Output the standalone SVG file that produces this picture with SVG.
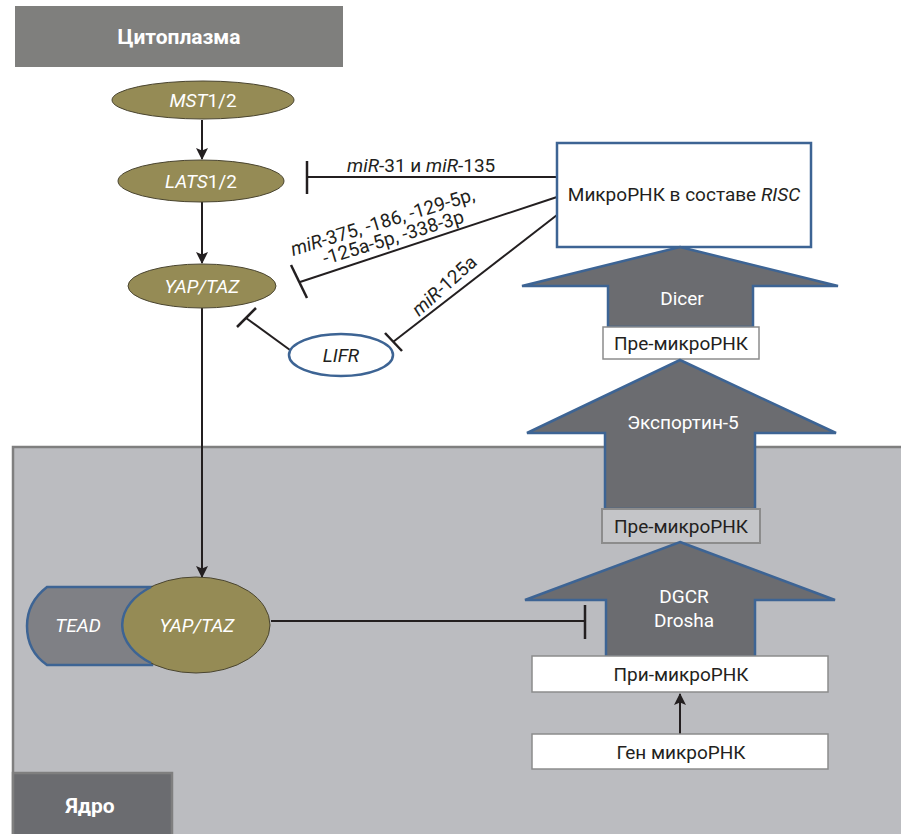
<svg xmlns="http://www.w3.org/2000/svg" width="901" height="834" viewBox="0 0 901 834">
<style>
text{font-family:Roboto,"Liberation Sans",sans-serif;}
.lbl{font-size:19px;fill:#231f20;text-anchor:middle;}
.wl{font-size:19px;fill:#ffffff;text-anchor:middle;}
.hdr{font-size:21px;font-weight:bold;fill:#ffffff;text-anchor:middle;}
.ol{fill:#958b55;stroke:#4a4530;stroke-width:1;}
.blk{fill:#6b6c70;stroke:#3d6494;stroke-width:2.5;}
.box{fill:#ffffff;stroke:#8c8c8c;stroke-width:1.5;}
.ln{stroke:#231f20;stroke-width:2;fill:none;}
.tb{stroke:#231f20;stroke-width:2.5;}
.it{font-style:italic;}
.mi{font-size:19px;fill:#231f20;}
</style>
<defs>
<marker id="ah" viewBox="0 0 12 12" refX="11" refY="6" markerWidth="12" markerHeight="12" markerUnits="userSpaceOnUse" orient="auto">
<path d="M0,0 L12,6 L0,12 L2.5,6 Z" fill="#231f20"/>
</marker>
</defs>
<rect x="0" y="0" width="901" height="834" fill="#ffffff"/>
<g id="nucleus">
<rect x="13" y="447" width="900" height="400" fill="#bbbcc0" stroke="#7f7f7f" stroke-width="2.5"/>
</g>
<g id="cytoplasm-label">
<rect x="15" y="6" width="328" height="61" fill="#7f7f7d"/>
<text class="hdr" x="179" y="44">Цитоплазма</text>
</g>
<g id="nucleus-label">
<rect x="13" y="773" width="159" height="70" fill="#6b6c70" stroke="#7f7f7f" stroke-width="2.5"/>
<text class="hdr" x="90" y="813">Ядро</text>
</g>
<g id="connectors">
<line class="ln" x1="202" y1="120" x2="202" y2="159" marker-end="url(#ah)"/>
<line class="ln" x1="202" y1="202" x2="202" y2="263" marker-end="url(#ah)"/>
<line class="ln" x1="202" y1="308" x2="202" y2="577" marker-end="url(#ah)"/>
<line class="ln" x1="680" y1="734" x2="680" y2="694" marker-end="url(#ah)"/>
<line class="ln" x1="557" y1="177" x2="307" y2="177"/>
<line class="tb" x1="307" y1="161" x2="307" y2="194"/>
<line class="ln" x1="557" y1="197" x2="300" y2="282"/>
<line class="tb" x1="291" y1="265" x2="307" y2="298"/>
<line class="ln" x1="557" y1="215" x2="393" y2="342"/>
<line class="tb" x1="385" y1="333" x2="402" y2="351"/>
<line class="ln" x1="290" y1="350" x2="246" y2="318"/>
<line class="tb" x1="237" y1="327" x2="256" y2="308"/>
<line class="ln" x1="271" y1="621" x2="585" y2="621"/>
<line class="tb" x1="585" y1="605" x2="585" y2="639"/>
<text class="mi" x="347" y="172"><tspan class="it">miR</tspan>-31 и <tspan class="it">miR</tspan>-135</text>
<text class="mi" transform="translate(293,256) rotate(-17)"><tspan class="it">miR</tspan>-375, -186, -129-5p,</text>
<text class="mi" transform="translate(325,265) rotate(-17)">-125a-5p, -338-3p</text>
<text class="mi" transform="translate(419,317) rotate(-42)"><tspan class="it">miR</tspan>-125a</text>
</g>
<g id="mst">
<ellipse class="ol" cx="203" cy="100" rx="91" ry="19"/>
<text class="wl" x="203" y="107"><tspan class="it">MST</tspan>1/2</text>
</g>
<g id="lats">
<ellipse class="ol" cx="201" cy="181" rx="83" ry="21"/>
<text class="wl" x="201" y="188"><tspan class="it">LATS</tspan>1/2</text>
</g>
<g id="yaptaz-cyto">
<ellipse class="ol" cx="202" cy="286" rx="74" ry="22"/>
<text class="wl it" x="202" y="293">YAP/TAZ</text>
</g>
<g id="lifr">
<ellipse cx="341" cy="355" rx="52" ry="21" fill="#ffffff" stroke="#3d6494" stroke-width="2.5"/>
<text class="lbl it" x="341" y="362">LIFR</text>
</g>
<g id="risc">
<rect x="557" y="143" width="254" height="104" fill="#ffffff" stroke="#3d6494" stroke-width="2.5"/>
<text class="lbl" x="684" y="201">МикроРНК в составе <tspan class="it">RISC</tspan></text>
</g>
<g id="dicer">
<path class="blk" d="M680,247 L838,286 L753,286 L753,327 L608,327 L608,286 L522,286 Z"/>
<text class="wl" x="682" y="305">Dicer</text>
</g>
<g id="pre-mirna-1">
<rect class="box" x="603" y="327" width="156" height="32"/>
<text class="lbl" x="681" y="350">Пре-микроРНК</text>
</g>
<g id="exportin">
<path class="blk" d="M680,360 L836,433 L755,433 L755,509 L605,509 L605,433 L527,433 Z"/>
<text class="wl" x="683" y="429">Экспортин-5</text>
</g>
<g id="pre-mirna-2">
<rect x="602" y="509" width="158" height="34" fill="#c4c5c8" stroke="#8c8c8c" stroke-width="2"/>
<text class="lbl" x="681" y="533">Пре-микроРНК</text>
</g>
<g id="drosha">
<path class="blk" d="M680,542 L835,600 L755,600 L755,657 L606,657 L606,600 L525,600 Z"/>
<text class="wl" x="684" y="603">DGCR</text>
<text class="wl" x="684" y="627">Drosha</text>
</g>
<g id="pri-mirna">
<rect class="box" x="532" y="656" width="296" height="36"/>
<text class="lbl" x="681" y="681">При-микроРНК</text>
</g>
<g id="gene">
<rect class="box" x="532" y="734" width="296" height="35"/>
<text class="lbl" x="681" y="759">Ген микроРНК</text>
</g>
<g id="tead-yaptaz">
<path d="M152,587 L47,587 C34,597 27,610 27,626 C27,642 34,656 47,665 L152,665 Z" fill="#7f8085" stroke="#3d6494" stroke-width="2.5"/>
<ellipse class="ol" cx="196" cy="625" rx="74" ry="48"/>
<path d="M151,587 A74,48 0 0,0 151,663" fill="none" stroke="#3d6494" stroke-width="2.5"/>
<text class="wl it" x="78" y="632">TEAD</text>
<text class="wl it" x="197" y="632">YAP/TAZ</text>
</g>
</svg>
